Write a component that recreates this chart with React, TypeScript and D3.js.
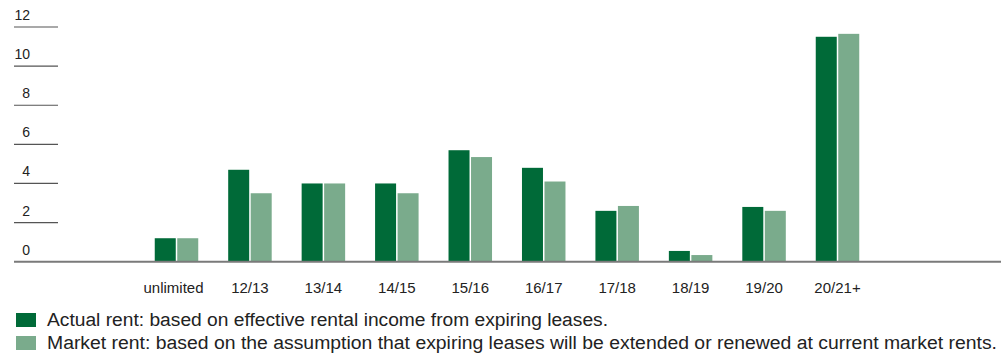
import React from "react";
import * as d3 from "d3";

const categories = ["unlimited", "12/13", "13/14", "14/15", "15/16", "16/17", "17/18", "18/19", "19/20", "20/21+"];
const actualRent = [1.2, 4.7, 4.0, 4.0, 5.7, 4.8, 2.6, 0.55, 2.8, 11.5];
const marketRent = [1.2, 3.5, 4.0, 3.5, 5.35, 4.1, 2.85, 0.34, 2.6, 11.65];
const yTicks = [0, 2, 4, 6, 8, 10, 12];
const legendLabels = [
  "Actual rent: based on effective rental income from expiring leases.",
  "Market rent: based on the assumption that expiring leases will be extended or renewed at current market rents.",
];
const legendWidths = [561, 950];
const colors = ["#006a38", "#7aab8c"];

export default function App() {
  const W = 1001;
  const H = 355;
  const y = d3.scaleLinear().domain([0, 12]).range([261.7, 27]);
  const x = d3.scalePoint<string>().domain(categories).range([176.5, 837.5]);
  const barW = 21;
  const gap = 1.5;
  const font = "'Liberation Sans', Arial, Helvetica, sans-serif";
  const series = [actualRent, marketRent];

  return (
    <svg
      width={W}
      height={H}
      style={{ position: "absolute", left: 0, top: 0, display: "block" }}
      fontFamily={font}
    >
      {yTicks.map((t) =>
        t === 0 ? null : (
          <line key={"l" + t} x1={14} x2={58} y1={y(t)} y2={y(t)} stroke="#555" strokeWidth={1.2} />
        )
      )}
      {yTicks.map((t) => (
        <text key={"t" + t} x={30} y={y(t) - 7} textAnchor="end" fontSize={14} fill="#222">
          {t}
        </text>
      ))}
      {series.map((vals, si) =>
        vals.map((v, i) => {
          const cx = x(categories[i])!;
          const left = si === 0 ? cx - gap / 2 - barW : cx + gap / 2;
          return (
            <rect
              key={si + "-" + i}
              x={left}
              y={y(v)}
              width={barW}
              height={y(0) - y(v)}
              fill={colors[si]}
            />
          );
        })
      )}
      <line x1={14} x2={W} y1={y(0)} y2={y(0)} stroke="#7a7a7a" strokeWidth={2} />
      {categories.map((c, i) => (
        <text
          key={c}
          x={x(c)! - (i === 0 ? 3 : 0)}
          y={293}
          textAnchor="middle"
          fontSize={15}
          fill="#222"
        >
          {c}
        </text>
      ))}
      {legendLabels.map((l, i) => (
        <g key={l}>
          <rect x={16} y={313 + i * 23} width={20} height={14} fill={colors[i]} />
          <text
            x={47}
            y={326 + i * 23}
            fontSize={18}
            fill="#222"
            textLength={legendWidths[i]}
            lengthAdjust="spacingAndGlyphs"
          >
            {l}
          </text>
        </g>
      ))}
    </svg>
  );
}
